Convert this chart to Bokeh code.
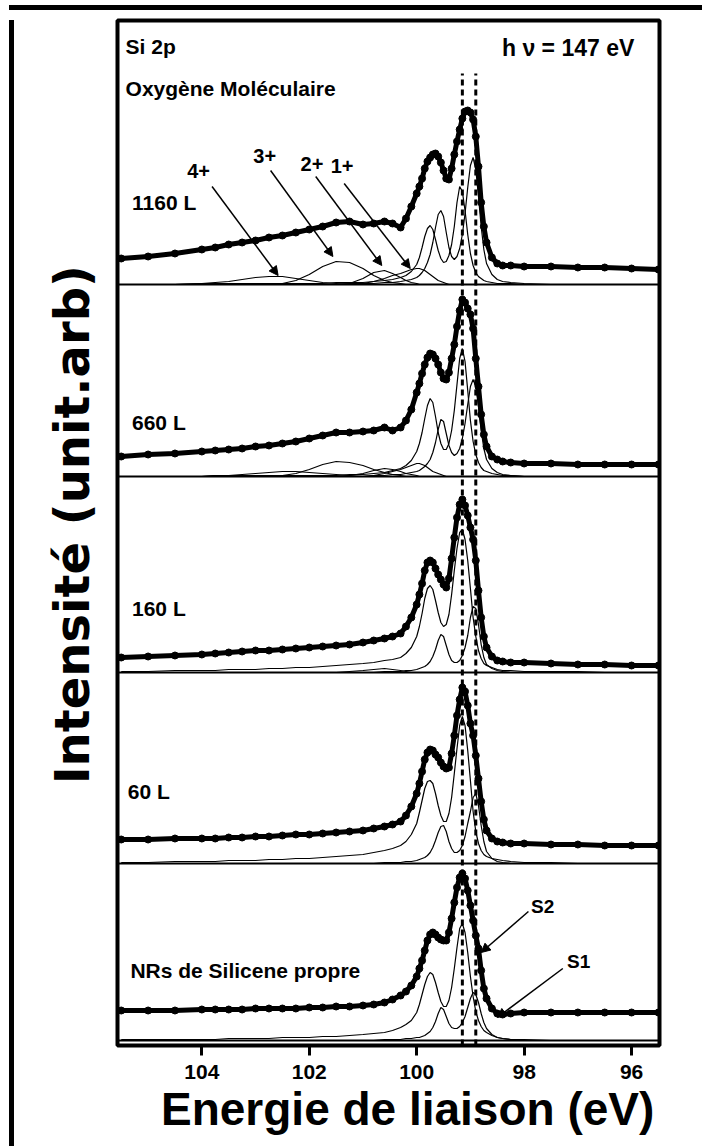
from bokeh.plotting import figure
from bokeh.models import Range1d, FixedTicker, Label, Arrow, NormalHead, Span, Div, Spacer
from bokeh.layouts import column, row
from bokeh.embed import file_html
from bokeh.resources import INLINE

# ---------------- data (binding energy grid, eV) ----------------
energy_ev = [105.5, 105.0, 104.5, 104.0, 103.75, 103.5, 103.25, 103.0, 102.75, 102.5,
             102.25, 102.0, 101.75, 101.5, 101.25, 101.0, 100.8, 100.6, 100.45, 100.3,
             100.2, 100.1, 100.0, 99.95, 99.9, 99.85, 99.8, 99.75, 99.7, 99.65,
             99.6, 99.55, 99.5, 99.45, 99.4, 99.35, 99.3, 99.25, 99.2, 99.15,
             99.1, 99.05, 99.0, 98.95, 98.9, 98.85, 98.8, 98.75, 98.7, 98.6,
             98.5, 98.4, 98.25, 98.0, 97.5, 97.0, 96.5, 96.0, 95.5]

# 1160 L
d_1160 = [26, 28, 31, 35, 37, 40, 42, 44, 47, 49,
          52, 55, 58, 62, 63, 60, 61, 63, 61, 57,
          66, 78, 91, 98, 106, 116, 123, 127, 130, 131,
          128, 122, 114, 106, 105, 116, 130, 143, 155, 166,
          173, 174, 172, 165, 148, 118, 82, 58, 42, 27,
          21, 19, 19, 18, 18, 17, 17, 16, 15]
s2_1160 = [0, 0, 0, 1, 1, 1, 1, 1, 1, 1,
           1, 1, 1, 2, 2, 2, 3, 4, 5, 7,
           9, 13, 20, 27, 37, 48, 56, 59, 55, 45,
           34, 26, 22, 23, 29, 40, 58, 82, 98, 93,
           74, 50, 31, 19, 12, 8, 6, 4, 3, 2,
           1, 1, 1, 0, 0, 0, 0, 0, 0]
s1_1160 = [0, 0, 0, 0, 0, 0, 0, 0, 0, 0,
           0, 0, 0, 0, 1, 1, 1, 2, 2, 3,
           4, 5, 7, 9, 12, 16, 22, 30, 42, 57,
           70, 74, 68, 52, 37, 28, 25, 28, 36, 50,
           71, 97, 119, 127, 115, 88, 58, 35, 21, 10,
           5, 3, 2, 1, 0, 0, 0, 0, 0]
ox1_1160 = [0, 0, 0, 0, 0, 0, 0, 0, 0, 0,
            0, 0, 0, 0, 0, 1, 3, 6, 9, 11,
            13, 15, 16, 16, 15, 14, 12, 10, 8, 6,
            4, 3, 2, 1, 0, 0, 0, 0, 0, 0,
            0, 0, 0, 0, 0, 0, 0, 0, 0, 0,
            0, 0, 0, 0, 0, 0, 0, 0, 0]
ox2_1160 = [0, 0, 0, 0, 0, 0, 0, 0, 0, 0,
            0, 0, 0, 0, 1, 6, 12, 14, 11, 7,
            4, 2, 1, 0, 0, 0, 0, 0, 0, 0,
            0, 0, 0, 0, 0, 0, 0, 0, 0, 0,
            0, 0, 0, 0, 0, 0, 0, 0, 0, 0,
            0, 0, 0, 0, 0, 0, 0, 0, 0]
ox3_1160 = [0, 0, 0, 0, 0, 0, 0, 0, 0, 1,
            4, 10, 18, 23, 22, 16, 9, 4, 2, 1,
            0, 0, 0, 0, 0, 0, 0, 0, 0, 0,
            0, 0, 0, 0, 0, 0, 0, 0, 0, 0,
            0, 0, 0, 0, 0, 0, 0, 0, 0, 0,
            0, 0, 0, 0, 0, 0, 0, 0, 0]
ox4_1160 = [0, 0, 0, 1, 2, 3, 5, 7, 8, 8,
            6, 4, 2, 1, 0, 0, 0, 0, 0, 0,
            0, 0, 0, 0, 0, 0, 0, 0, 0, 0,
            0, 0, 0, 0, 0, 0, 0, 0, 0, 0,
            0, 0, 0, 0, 0, 0, 0, 0, 0, 0,
            0, 0, 0, 0, 0, 0, 0, 0, 0]

# 660 L
d_660 = [20, 22, 23, 25, 26, 27, 28, 30, 31, 33,
         35, 38, 41, 44, 44, 45, 46, 49, 46, 49,
         56, 67, 84, 93, 103, 112, 119, 123, 122, 118,
         112, 104, 98, 97, 104, 118, 132, 150, 166, 177,
         174, 168, 162, 148, 118, 90, 62, 42, 30, 20,
         17, 15, 14, 13, 13, 12, 12, 12, 12]
s2_660 = [0, 0, 0, 0, 1, 1, 1, 1, 1, 1,
          1, 1, 1, 1, 2, 2, 3, 4, 6, 8,
          11, 16, 25, 33, 44, 58, 71, 78, 74, 60,
          44, 33, 27, 27, 33, 46, 66, 92, 118, 128,
          115, 86, 56, 35, 22, 14, 9, 6, 5, 3,
          2, 1, 1, 0, 0, 0, 0, 0, 0]
s1_660 = [0, 0, 0, 0, 0, 0, 0, 0, 0, 0,
          0, 0, 0, 0, 0, 0, 1, 1, 2, 2,
          3, 4, 5, 6, 8, 10, 13, 17, 24, 34,
          47, 57, 55, 43, 31, 24, 21, 23, 28, 38,
          53, 72, 90, 97, 90, 70, 46, 28, 17, 8,
          4, 2, 1, 0, 0, 0, 0, 0, 0]
ox1_660 = [0, 0, 0, 0, 0, 0, 0, 0, 0, 0,
           0, 0, 0, 0, 0, 0, 1, 3, 5, 7,
           9, 11, 13, 13, 12, 11, 9, 7, 5, 4,
           3, 2, 1, 0, 0, 0, 0, 0, 0, 0,
           0, 0, 0, 0, 0, 0, 0, 0, 0, 0,
           0, 0, 0, 0, 0, 0, 0, 0, 0]
ox2_660 = [0, 0, 0, 0, 0, 0, 0, 0, 0, 0,
           0, 0, 0, 0, 1, 3, 6, 8, 7, 5,
           3, 2, 1, 0, 0, 0, 0, 0, 0, 0,
           0, 0, 0, 0, 0, 0, 0, 0, 0, 0,
           0, 0, 0, 0, 0, 0, 0, 0, 0, 0,
           0, 0, 0, 0, 0, 0, 0, 0, 0]
ox3_660 = [0, 0, 0, 0, 0, 0, 0, 0, 0, 1,
           3, 7, 12, 15, 14, 11, 7, 4, 2, 1,
           0, 0, 0, 0, 0, 0, 0, 0, 0, 0,
           0, 0, 0, 0, 0, 0, 0, 0, 0, 0,
           0, 0, 0, 0, 0, 0, 0, 0, 0, 0,
           0, 0, 0, 0, 0, 0, 0, 0, 0]
ox4_660 = [0, 0, 0, 0, 1, 1, 2, 3, 4, 5,
           5, 4, 3, 2, 1, 0, 0, 0, 0, 0,
           0, 0, 0, 0, 0, 0, 0, 0, 0, 0,
           0, 0, 0, 0, 0, 0, 0, 0, 0, 0,
           0, 0, 0, 0, 0, 0, 0, 0, 0, 0,
           0, 0, 0, 0, 0, 0, 0, 0, 0]

# 160 L
d_160 = [15, 16, 17, 18, 19, 20, 21, 22, 22, 23,
         24, 25, 26, 27, 28, 30, 32, 34, 36, 39,
         46, 55, 68, 78, 89, 102, 110, 112, 110, 104,
         98, 93, 88, 85, 94, 114, 135, 155, 168, 173,
         167, 157, 145, 133, 112, 82, 55, 36, 25, 16,
         12, 11, 10, 10, 9, 8, 8, 7, 7]
s2_160 = [1, 1, 2, 2, 2, 3, 3, 3, 4, 4,
          5, 5, 6, 7, 8, 9, 10, 12, 13, 15,
          19, 25, 36, 46, 59, 74, 84, 87, 83, 72,
          60, 50, 46, 48, 58, 78, 102, 124, 140, 143,
          133, 112, 84, 55, 36, 22, 14, 9, 7, 5,
          3, 2, 2, 1, 1, 1, 0, 0, 0]
s1_160 = [0, 0, 0, 0, 0, 0, 0, 0, 0, 0,
          0, 0, 0, 0, 0, 0, 0, 1, 1, 1,
          2, 2, 3, 4, 5, 6, 8, 11, 16, 23,
          32, 38, 36, 27, 18, 12, 10, 10, 12, 17,
          25, 37, 55, 66, 64, 48, 28, 15, 8, 4,
          2, 1, 0, 0, 0, 0, 0, 0, 0]
ox_160 = [0, 0, 0, 0, 0, 0, 0, 0, 0, 0,
          0, 0, 0, 0, 1, 2, 3, 4, 3, 2,
          1, 0, 0, 0, 0, 0, 0, 0, 0, 0,
          0, 0, 0, 0, 0, 0, 0, 0, 0, 0,
          0, 0, 0, 0, 0, 0, 0, 0, 0, 0,
          0, 0, 0, 0, 0, 0, 0, 0, 0]

# 60 L
d_60 = [24, 24, 25, 25, 25, 26, 26, 27, 27, 28,
        29, 29, 30, 31, 32, 33, 35, 37, 39, 42,
        48, 57, 70, 80, 92, 104, 111, 114, 113, 109,
        106, 101, 97, 95, 96, 110, 128, 148, 164, 176,
        172, 158, 140, 128, 108, 85, 62, 44, 33, 25,
        22, 21, 20, 20, 19, 19, 18, 18, 18]
s2_60 = [1, 1, 2, 2, 2, 3, 3, 3, 4, 4,
         5, 5, 6, 7, 8, 9, 11, 13, 15, 18,
         22, 29, 40, 51, 63, 75, 82, 83, 80, 70,
         58, 48, 42, 42, 50, 66, 90, 115, 138, 147,
         138, 113, 83, 52, 32, 20, 13, 9, 7, 5,
         4, 3, 2, 1, 1, 0, 0, 0, 0]
s1_60 = [0, 0, 0, 0, 0, 0, 0, 0, 0, 0,
         0, 0, 0, 0, 0, 0, 0, 1, 1, 1,
         2, 2, 3, 4, 5, 6, 8, 11, 16, 23,
         31, 37, 38, 32, 22, 15, 11, 11, 13, 18,
         27, 40, 52, 66, 70, 58, 38, 22, 12, 5,
         2, 1, 0, 0, 0, 0, 0, 0, 0]

# clean silicene nanoribbons
d_nr = [30, 30, 30, 31, 31, 31, 31, 32, 32, 32,
        32, 33, 33, 34, 34, 35, 36, 38, 41, 45,
        49, 55, 64, 72, 80, 90, 100, 106, 108, 106,
        103, 101, 100, 100, 108, 122, 138, 153, 163, 167,
        162, 150, 135, 120, 105, 92, 70, 52, 42, 32,
        27, 26, 27, 28, 28, 28, 28, 28, 28]
s2_nr = [1, 1, 1, 1, 1, 2, 2, 2, 2, 3,
         3, 3, 4, 4, 5, 6, 7, 8, 10, 13,
         16, 20, 28, 36, 46, 56, 64, 68, 66, 58,
         48, 39, 34, 34, 40, 53, 72, 93, 112, 117,
         108, 88, 64, 44, 29, 20, 14, 10, 8, 5,
         3, 2, 1, 1, 0, 0, 0, 0, 0]
s1_nr = [0, 0, 0, 0, 0, 0, 0, 0, 0, 0,
         0, 0, 0, 0, 0, 0, 0, 1, 1, 1,
         2, 2, 3, 3, 4, 5, 7, 9, 13, 19,
         27, 33, 31, 24, 17, 13, 12, 12, 14, 18,
         24, 33, 42, 48, 46, 38, 27, 18, 12, 6,
         3, 2, 1, 0, 0, 0, 0, 0, 0]

panel_names = ["1160 L", "660 L", "160 L", "60 L", "NRs de Silicene propre"]
tick_values = [104, 102, 100, 98, 96]
ref_lines_ev = [99.15, 98.9]   # S2, S1
ox_labels = ["4+", "3+", "2+", "1+"]

# ---------------- layout ----------------
FONT = "Liberation Sans"
PW, PH = 688, 1126
NB = "\u00a0"

panels = [
    (761, d_1160, [s2_1160, s1_1160, ox1_1160, ox2_1160, ox3_1160, ox4_1160], 105.30, 82),
    (569, d_660, [s2_660, s1_660, ox1_660, ox2_660, ox3_660, ox4_660], 105.30, 54),
    (373, d_160, [s2_160, s1_160, ox_160], 105.30, 64),
    (182, d_60, [s2_60, s1_60], 105.38, 72),
    (5, d_nr, [s2_nr, s1_nr], 105.33, 70),
]

for _, d, comps, _, _ in panels:
    assert len(d) == len(energy_ev)
    for c in comps:
        assert len(c) == len(energy_ev)

p = figure(width=PW, height=PH, x_range=Range1d(105.57, 95.48), y_range=Range1d(0, 1025),
           output_backend="svg", toolbar_location=None,
           min_border_left=98, min_border_right=48, min_border_top=5, min_border_bottom=96,
           background_fill_color="white", border_fill_color="white")
p.xgrid.visible = False
p.ygrid.visible = False
p.outline_line_color = "black"
p.outline_line_width = 4

ax = p.xaxis[0]
ax.ticker = FixedTicker(ticks=tick_values, minor_ticks=[])
ax.axis_line_color = None
ax.major_tick_in = 0
ax.major_tick_out = 10
ax.major_tick_line_width = 3
ax.major_tick_line_color = "black"
ax.major_label_text_font = FONT
ax.major_label_text_font_style = "bold"
ax.major_label_text_font_size = "21px"
ax.major_label_text_color = "black"
ax.major_label_standoff = 9
ax.axis_label = NB * 3 + "Energie de liaison (eV)"
ax.axis_label_text_font = FONT
ax.axis_label_text_font_style = "bold"
ax.axis_label_text_font_size = "46px"
ax.axis_label_text_color = "black"
ax.axis_label_standoff = 1

ay = p.yaxis[0]
ay.ticker = FixedTicker(ticks=[], minor_ticks=[])
ay.axis_line_color = None
ay.major_tick_line_color = None
ay.minor_tick_line_color = None
ay.axis_label = NB + "Intensité (unit.arb)"
ay.axis_label_text_font = "DejaVu Sans"
ay.axis_label_text_font_style = "bold"
ay.axis_label_text_font_size = "48px"
ay.axis_label_text_color = "black"
ay.axis_label_standoff = 18

for off, d, comps, lx, ly in panels:
    for c in comps:
        p.line(energy_ev, [off + v for v in c], line_color="black", line_width=1.2)
    yd = [off + v for v in d]
    p.line(energy_ev, yd, line_color="black", line_width=5)
    p.scatter(energy_ev, yd, size=7, marker="circle", fill_color="black", line_color="black")
    p.add_layout(Span(location=off, dimension="width", line_color="black", line_width=2))

for name, (off, d, comps, lx, ly) in zip(panel_names, panels):
    p.add_layout(Label(x=lx, y=off + ly, text=name, text_font=FONT, text_font_style="bold",
                       text_font_size="21px", text_color="black",
                       text_baseline="middle", text_align="left"))

# dashed reference lines
p.segment(x0=ref_lines_ev, y0=[0, 0], x1=ref_lines_ev, y1=[972, 972],
          line_color="black", line_width=3, line_dash="6 4")

# header texts
def txt(x, y, s, size, align="left"):
    p.add_layout(Label(x=x, y=y, text=s, text_font=FONT, text_font_style="bold",
                       text_font_size=size, text_color="black",
                       text_baseline="middle", text_align=align))

txt(105.42, 999, "Si 2p", "21px")
txt(105.42, 957, "Oxygène Moléculaire", "21px")
txt(95.83, 998, "h ν  = 147 eV", "23px", "right")

# oxidation-state arrows (1160 L panel), heights relative to the panel baseline
OFF = 761
ox_label_pos = [(104.06, 114), (102.83, 129), (101.95, 121), (101.39, 119)]
ox_arrows = [((103.81, 98), (102.58, 9)), ((102.72, 114), (101.56, 28)),
             ((101.88, 108), (100.65, 19)), ((101.35, 101), (100.12, 16))]
for t, (lx, ly) in zip(ox_labels, ox_label_pos):
    txt(lx, OFF + ly, t, "20px", "center")
for (x0, y0), (x1, y1) in ox_arrows:
    p.add_layout(Arrow(end=NormalHead(size=9, fill_color="black", line_color="black"),
                       x_start=x0, y_start=OFF + y0, x_end=x1, y_end=OFF + y1,
                       line_color="black", line_width=1.5))

# S1 / S2 labels (bottom panel)
OFF0 = 5
txt(97.87, OFF0 + 134, "S2", "19px")
txt(97.2, OFF0 + 79, "S1", "19px")
p.add_layout(Arrow(end=NormalHead(size=9, fill_color="black", line_color="black"),
                   x_start=97.92, y_start=OFF0 + 129, x_end=98.8, y_end=OFF0 + 88,
                   line_color="black", line_width=1.5))
p.add_layout(Arrow(end=NormalHead(size=9, fill_color="black", line_color="black"),
                   x_start=97.28, y_start=OFF0 + 72, x_end=98.5, y_end=OFF0 + 23,
                   line_color="black", line_width=1.5))

# outer page border (left and top black bars)
top_bar = Div(text="", width=693, height=5, styles={"background-color": "black"})
left_bar = Div(text="", width=5, height=PH, styles={"background-color": "black"})
layout = column(row(Spacer(width=4, height=5), top_bar),
                row(Spacer(width=4, height=PH), left_bar, p))

open("out.html", "w").write(file_html(layout, INLINE))
